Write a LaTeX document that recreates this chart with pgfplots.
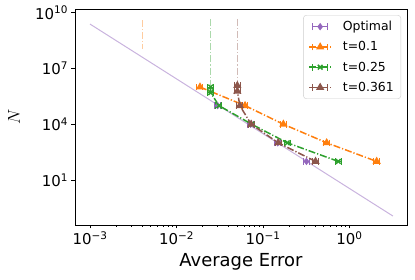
\documentclass[border=0pt]{standalone}
\usepackage{pgfplots}
\pgfplotsset{compat=1.18}
\usepackage{fontspec}
\setmainfont{DejaVu Sans}
\definecolor{tpurple}{HTML}{9467BD}
\definecolor{torange}{HTML}{FF7F0E}
\definecolor{tgreen}{HTML}{2CA02C}
\definecolor{tbrown}{HTML}{8C564B}
\pgfplotsset{
  ebleg/.style={legend image code/.code={
    \draw[#1, solid, line width=1pt] (3.5bp,0cm)--(18.5bp,0cm) (3.5bp,-3.5pt)--(3.5bp,3.5pt) (18.5bp,-3.5pt)--(18.5bp,3.5pt);
    \draw[mark repeat=2,mark phase=2,##1] plot coordinates {(0bp,0cm) (11bp,0cm) (22bp,0cm)};
  }},
  ddot/.style={dash pattern=on 7pt off 2pt on 1.2pt off 2pt},
  xeb/.style={error bars/.cd, x dir=both, x explicit relative,
    error bar style={line width=1pt, solid},
    error mark options={rotate=90, mark size=3.3pt, line width=1pt, solid}, /pgfplots/.cd},
}
\begin{document}
\begin{tikzpicture}
\useasboundingbox (-75bp,-55bp) rectangle (340bp,225bp);
\begin{axis}[
  at={(0,0)}, anchor=south west,
  scale only axis, width=332bp, height=216bp,
  xmode=log, ymode=log,
  xmin=6.71e-4, xmax=4.62, ymin=0.038, ymax=1.58e10,
  xtick={1e-3,1e-2,1e-1,1},
  xticklabels={10\textsuperscript{−3},10\textsuperscript{−2},10\textsuperscript{−1},10\textsuperscript{0}},
  ytick={1e1,1e4,1e7,1e10},
  yticklabels={10\textsuperscript{1},10\textsuperscript{4},10\textsuperscript{7},10\textsuperscript{10}},
  yminorticks=false,
  tick align=outside, xtick pos=bottom, ytick pos=left,
  major tick length=3.5bp, minor tick length=2bp,
  tick style={black, line width=0.6pt},
  axis line style={line width=0.8pt},
  tick label style={font=\fontsize{15}{18}\selectfont},
  xlabel={Average Error},
  ylabel={$N$},
  xlabel style={font=\fontsize{18}{21}\selectfont, at={(axis description cs:0.5,-0.171)}, anchor=center},
  ylabel style={font=\fontsize{19}{21}\selectfont, at={(axis description cs:-0.184,0.5)}, anchor=center},
  legend style={at={(0.982,0.972)}, anchor=north east, font=\fontsize{12.5}{15}\selectfont,
    draw=black!20, rounded corners=3pt, row sep=5.5pt, inner xsep=5pt, inner ysep=4pt,
    /tikz/every odd column/.append style={column sep=9pt}},
  legend cell align=left,
]
% fitted optimal line
\addplot[tpurple!50!white, line width=1pt, forget plot] coordinates {(1e-3,2.45e9) (3.18,0.115)};
% light vertical lines
\addplot[torange!40!white, line width=1pt, ddot, forget plot] coordinates {(0.0041,4e9) (0.0041,1.1e8)};
\addplot[tgreen!40!white, line width=1pt, ddot, forget plot] coordinates {(0.0248,4.6e9) (0.0248,1e6)};
\addplot[tbrown!40!white, line width=1pt, ddot, forget plot] coordinates {(0.0505,4.6e9) (0.0505,1.2e6)};
% Optimal
\addplot[tpurple, only marks, mark=diamond*, mark size=3.4pt, ebleg=tpurple, xeb] coordinates {
 (0.0299,1e5) +- (0.08,0)
 (0.072,1e4) +- (0.08,0)
 (0.148,1e3) +- (0.08,0)
 (0.318,1e2) +- (0.08,0)
};
\addlegendentry{Optimal}
% t=0.1
\addplot[torange, line width=1.5pt, ddot, mark=triangle*, mark size=3.3pt, mark options={solid}, ebleg=torange, xeb] coordinates {
 (0.0187,1e6) +- (0.08,0)
 (0.062,1e5) +- (0.08,0)
 (0.172,1e4) +- (0.08,0)
 (0.545,1e3) +- (0.08,0)
 (2.06,1e2) +- (0.08,0)
};
\addlegendentry{t=0.1}
% t=0.25
\addplot[tgreen, line width=1.5pt, ddot, mark=x, mark size=3.3pt, mark options={solid}, ebleg=tgreen, xeb] coordinates {
 (0.0248,1e6) +- (0.08,0)
 (0.0248,5e5) +- (0.08,0)
 (0.031,1e5) +- (0.08,0)
 (0.074,1e4) +- (0.08,0)
 (0.191,1e3) +- (0.08,0)
 (0.743,1e2) +- (0.08,0)
};
\addlegendentry{t=0.25}
% t=0.361
\addplot[tbrown, line width=1.5pt, ddot, mark=triangle*, mark size=3.3pt, mark options={solid}, ebleg=tbrown, xeb] coordinates {
 (0.0505,1.2e6) +- (0.08,0)
 (0.0505,6e5) +- (0.08,0)
 (0.054,1e5) +- (0.08,0)
 (0.073,1e4) +- (0.08,0)
 (0.15,1e3) +- (0.08,0)
 (0.405,1e2) +- (0.08,0)
};
\addlegendentry{t=0.361}
\end{axis}
\end{tikzpicture}
\end{document}
